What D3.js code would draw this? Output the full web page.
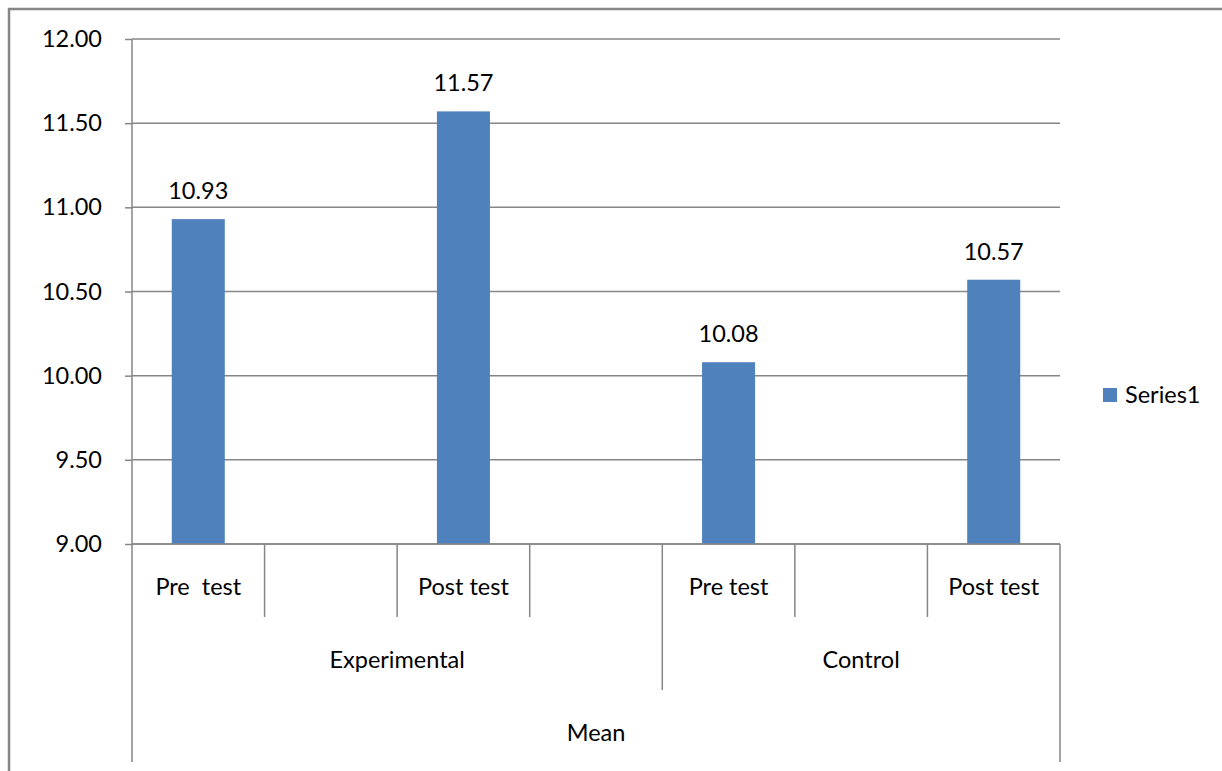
<!DOCTYPE html>
<html>
<head>
<meta charset="utf-8">
<script src="https://cdn.jsdelivr.net/npm/d3@7"></script>
<style>
  html, body { margin: 0; padding: 0; background: #fff; }
  svg text { font-family: Lato, "Open Sans", sans-serif; fill: #000; white-space: pre; }
</style>
</head>
<body>
<svg id="chart" width="1222" height="771"></svg>
<script>
// Category slots (inner level), their values, and the outer groupings
const slots = ["Pre  test", "", "Post test", "", "Pre test", "", "Post test"];
const values = [10.93, null, 11.57, null, 10.08, null, 10.57];
const groups = [
  { name: "Experimental", from: 0, to: 3 },
  { name: "Control", from: 4, to: 6 }
];
const topLabel = "Mean";
const yTicks = [9.0, 9.5, 10.0, 10.5, 11.0, 11.5, 12.0];
const seriesName = "Series1";

(function () {
const svg = d3.select("#chart");
const gridColor = "#868686";
const barColor = "#4F81BD";
const fontSize = "23.5px";

const plotLeft = 132, plotRight = 1060, plotTop = 39, plotBottom = 544;

const x = d3.scaleBand().domain(d3.range(slots.length)).range([plotLeft, plotRight]).padding(0);
const y = d3.scaleLinear().domain([9, 12]).range([plotBottom, plotTop]);

// Outer frame (left and top edges)
svg.append("path")
  .attr("d", `M9,771 L9,9 L1222,9`)
  .attr("fill", "none").attr("stroke", gridColor).attr("stroke-width", 2.5);

// Horizontal gridlines with y ticks
const yAxis = d3.axisLeft(y).tickValues(yTicks).tickFormat(d3.format(".2f"))
  .tickSize(7).tickPadding(23);
const gy = svg.append("g").attr("transform", `translate(${plotLeft},0)`).call(yAxis);
gy.select(".domain").remove();
gy.selectAll(".tick line").attr("stroke", gridColor).attr("stroke-width", 1.5);
gy.selectAll(".tick text").style("font-size", fontSize).attr("fill", "#000");

svg.append("g").selectAll("line").data(yTicks).join("line")
  .attr("x1", plotLeft).attr("x2", plotRight)
  .attr("y1", d => y(d)).attr("y2", d => y(d))
  .attr("stroke", gridColor).attr("stroke-width", 1.5);

// Y axis line
svg.append("line").attr("x1", plotLeft).attr("x2", plotLeft).attr("y1", plotTop).attr("y2", plotBottom)
  .attr("stroke", gridColor).attr("stroke-width", 1.5);

// Bars
const bw = x.bandwidth() * 0.4;
const data = values.map((v, i) => ({ v, i })).filter(d => d.v != null);
svg.append("g").selectAll("rect").data(data).join("rect")
  .attr("x", d => x(d.i) + (x.bandwidth() - bw) / 2)
  .attr("width", bw)
  .attr("y", d => y(d.v))
  .attr("height", d => y(9) - y(d.v))
  .attr("fill", barColor);

// Value labels
svg.append("g").selectAll("text").data(data).join("text")
  .attr("x", d => x(d.i) + x.bandwidth() / 2)
  .attr("y", d => y(d.v) - 20)
  .attr("text-anchor", "middle")
  .style("font-size", fontSize)
  .text(d => d.v.toFixed(2));

// Category axis: baseline and multi-level dividers
const row1 = 617, row2 = 690, row3 = 762;
svg.append("line").attr("x1", plotLeft).attr("x2", plotRight).attr("y1", plotBottom).attr("y2", plotBottom)
  .attr("stroke", gridColor).attr("stroke-width", 1.5);

const boundaries = d3.range(slots.length + 1);
const groupEdges = new Set(groups.map(g => g.from));
svg.append("g").selectAll("line").data(boundaries).join("line")
  .attr("x1", i => i === slots.length ? plotRight : x(i))
  .attr("x2", i => i === slots.length ? plotRight : x(i))
  .attr("y1", plotBottom)
  .attr("y2", i => (i === 0 || i === slots.length) ? row3 : (groupEdges.has(i) ? row2 : row1))
  .attr("stroke", gridColor).attr("stroke-width", 1.5);

// Inner-level labels
svg.append("g").selectAll("text").data(slots.map((s, i) => ({ s, i })).filter(d => d.s)).join("text")
  .attr("x", d => x(d.i) + x.bandwidth() / 2)
  .attr("y", 587)
  .attr("dy", "0.35em")
  .attr("text-anchor", "middle")
  .style("font-size", fontSize)
  .text(d => d.s);

// Group labels
svg.append("g").selectAll("text").data(groups).join("text")
  .attr("x", g => (x(g.from) + (g.to + 1 === slots.length ? plotRight : x(g.to + 1))) / 2)
  .attr("y", 660)
  .attr("dy", "0.35em")
  .attr("text-anchor", "middle")
  .style("font-size", fontSize)
  .text(g => g.name);

// Top-level label
svg.append("text")
  .attr("x", (plotLeft + plotRight) / 2)
  .attr("y", 733)
  .attr("dy", "0.35em")
  .attr("text-anchor", "middle")
  .style("font-size", fontSize)
  .text(topLabel);

// Legend
svg.append("rect").attr("x", 1103).attr("y", 388).attr("width", 14).attr("height", 14).attr("fill", barColor);
svg.append("text").attr("x", 1125).attr("y", 395).attr("dy", "0.35em")
  .style("font-size", fontSize).text(seriesName);
})();
</script>
</body>
</html>
